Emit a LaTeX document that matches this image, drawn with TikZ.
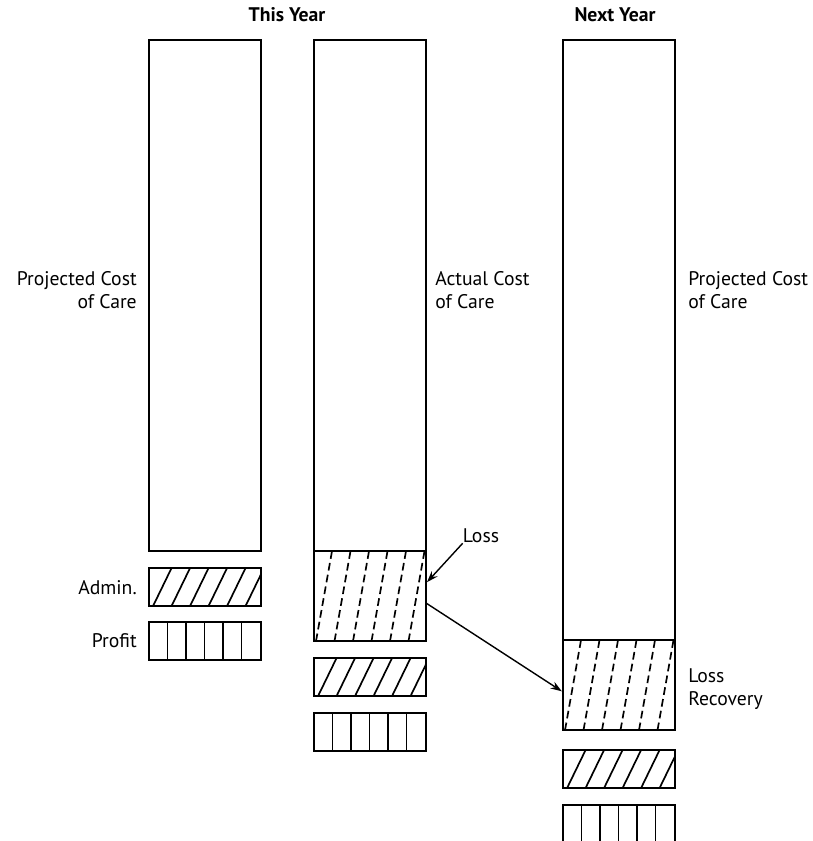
\documentclass[tikz,border=0pt]{standalone}
\usepackage{fontspec}
\setmainfont{PT Sans}
\usetikzlibrary{arrows.meta,positioning,calc}

\begin{document}
\begin{tikzpicture}[x=0.025cm,y=-0.025cm,>={Stealth[length=8pt,width=5.5pt]},
 font=\fontsize{14}{16.5}\selectfont,
 bar/.style={draw,line width=1.3pt,minimum width=2.8cm,inner sep=0pt,outer sep=0pt},
 admin/.style={bar,minimum height=0.95cm,path picture={
   \foreach \i in {0,...,5}
     \draw[line width=1.2pt] ($(path picture bounding box.south west)+(4+18.5*\i,0)$) -- ++(18.5,-38);}},
 profit/.style={bar,minimum height=0.95cm,path picture={
   \foreach \i in {1,...,5}
     \draw[line width=1.2pt] ($(path picture bounding box.south west)+(18.5*\i,0)$) -- ++(0,-38);}},
 loss/.style={bar,minimum height=2.25cm,path picture={
   \foreach \i in {0,...,5}
     \draw[line width=1.2pt,dash pattern=on 5.5pt off 3pt] ($(path picture bounding box.south west)+(2+18.5*\i,0)$) -- ++(16,-90);}},
 lbl/.style={inner sep=0pt},
 arrow/.style={->,line width=1pt,shorten >=1pt}]
\useasboundingbox (0,0) rectangle (813,841);
% column headings
\node[lbl,font=\fontsize{14}{16.5}\selectfont\bfseries] (thisyear) at (287,15) {This Year};
\node[lbl,font=\fontsize{14}{16.5}\selectfont\bfseries] (nextyear) at (615,15) {Next Year};
% this year, projected
\node[bar,minimum height=12.775cm,anchor=north west] (projA) at (149,40) {};
\node[admin,below=0.425cm of projA] (adminA) {};
\node[profit,below=0.4cm of adminA] (profitA) {};
% this year, actual
\node[bar,minimum height=12.775cm,anchor=north west] (actual) at (314,40) {};
\node[loss,below=0cm of actual] (lossA) {};
\node[admin,below=0.425cm of lossA] (adminB) {};
\node[profit,below=0.425cm of adminB] (profitB) {};
% next year, projected
\node[bar,minimum height=15cm,anchor=north west] (projB) at (563,40) {};
\node[loss,below=0cm of projB] (recov) {};
\node[admin,below=0.5cm of recov] (adminC) {};
\node[profit,below=0.425cm of adminC] (profitC) {};
% labels
\node[lbl,align=right,anchor=east] (projAlbl) at (137,290) {Projected Cost\\of Care};
\node[lbl,align=left,anchor=west] (actlbl) at (435,290) {Actual Cost\\of Care};
\node[lbl,align=left,anchor=west] (projBlbl) at (688,290) {Projected Cost\\of Care};
\node[lbl,anchor=east] (adminlbl) at (137,588) {Admin.};
\node[lbl,anchor=east] (profitlbl) at (137,641) {Profit};
\node[lbl] (losslbl) at (481,536) {Loss};
\node[lbl,align=left,anchor=west] (recovlbl) at (688,689) {Loss\\Recovery};
% arrows
\draw[arrow] (losslbl.south west) -- (lossA.13);
\draw[arrow] (lossA.-7) -- (recov.187);
\end{tikzpicture}
\end{document}
